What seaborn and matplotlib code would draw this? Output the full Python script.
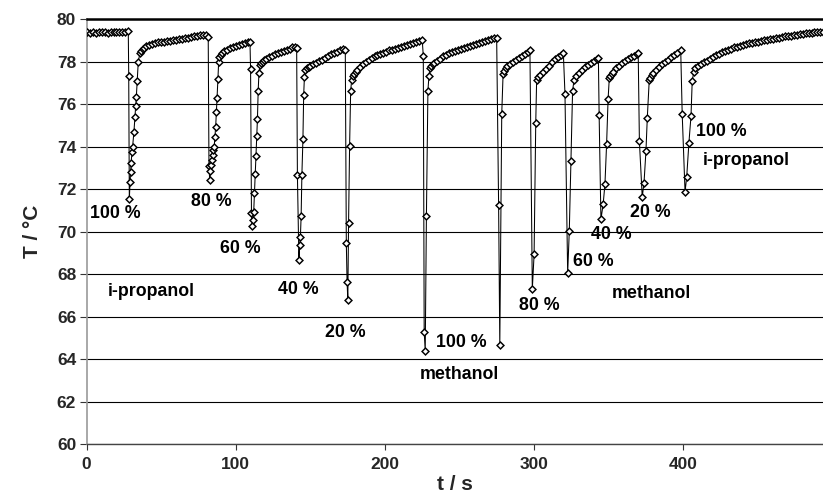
import matplotlib
matplotlib.use("Agg")
import matplotlib.pyplot as plt
import seaborn as sns
import pandas as pd

# Temperature record (t in s, T in degC), one block per injection.
baseline = [(0, 79.37), (2, 79.36), (4, 79.39), (6, 79.36), (8, 79.38), (10, 79.37),
            (12, 79.39), (14, 79.36), (16, 79.38), (18, 79.37), (20, 79.39), (22, 79.37),
            (24, 79.38), (26, 79.40), (27.9, 79.45)]

ipa_100 = [(28.2, 77.32), (28.6, 71.52), (29.1, 72.34), (29.5, 72.81), (29.8, 73.22),
           (30.4, 73.76), (30.8, 73.99), (31.7, 74.70), (32.4, 75.40), (32.9, 75.91),
           (33.3, 76.34), (33.9, 77.10), (34.6, 77.99), (35.7, 78.39), (36.5, 78.48),
           (37.5, 78.57), (38.5, 78.64), (40, 78.74), (42, 78.80), (44, 78.84),
           (46, 78.87), (48, 78.90), (50, 78.92), (52, 78.94), (54, 78.96), (56, 78.98),
           (58, 79.00), (60, 79.02), (62, 79.04), (64, 79.06), (66, 79.09), (68, 79.12),
           (70, 79.15), (72, 79.18), (74, 79.20), (76, 79.23), (78, 79.26), (80, 79.27),
           (81.5, 79.15)]

ipa_80 = [(82.0, 73.10), (82.5, 72.42), (83.0, 72.86), (83.5, 73.13), (84.0, 73.36),
          (84.5, 73.60), (85.0, 73.84), (85.5, 73.99), (86.0, 74.46), (86.5, 74.93),
          (87.0, 75.64), (87.5, 76.27), (88.0, 77.16), (88.5, 77.99), (89, 78.20),
          (90, 78.33), (91, 78.42), (92, 78.48), (94, 78.56), (96, 78.63), (98, 78.69),
          (100, 78.74), (102, 78.79), (104, 78.84), (106, 78.88), (108, 78.92),
          (109.5, 78.93)]

ipa_60 = [(109.9, 77.63), (110.5, 70.86), (111.0, 70.26), (111.5, 70.54), (112.0, 70.93),
          (112.5, 71.80), (113.0, 72.71), (113.5, 73.57), (114.0, 74.49), (114.5, 75.29),
          (115.0, 76.63), (115.5, 77.44), (116.2, 77.84), (117, 77.93), (118, 78.00),
          (119, 78.06), (120, 78.12), (122, 78.20), (124, 78.27), (126, 78.34),
          (128, 78.41), (130, 78.46), (132, 78.50), (134, 78.54), (136, 78.60),
          (138, 78.66), (140, 78.70), (140.8, 78.62)]

ipa_40 = [(141.3, 72.66), (142.3, 68.66), (142.8, 69.36), (143.3, 69.74), (143.8, 70.73),
          (144.3, 72.66), (145.0, 74.34), (145.5, 76.42), (146.0, 77.28), (146.6, 77.60),
          (148, 77.68), (149, 77.74), (150, 77.80), (152, 77.86), (154, 77.92),
          (156, 78.01), (158, 78.09), (160, 78.18), (162, 78.27), (164, 78.34),
          (166, 78.41), (168, 78.47), (170, 78.52), (172, 78.57), (173.4, 78.54)]

ipa_20 = [(174.1, 69.44), (174.6, 67.64), (175.1, 66.78), (175.6, 70.41), (176.3, 74.04),
          (177.0, 76.63), (177.7, 77.13), (178.5, 77.30), (179.5, 77.42), (180.5, 77.52),
          (181.5, 77.60), (183, 77.76), (185, 77.90), (187, 78.00), (189, 78.09),
          (191, 78.18), (193, 78.25), (195, 78.31), (197, 78.37), (199, 78.41),
          (201, 78.46), (203, 78.52), (205, 78.56), (207, 78.60), (209, 78.65),
          (211, 78.70), (213, 78.74), (215, 78.79), (217, 78.83), (219, 78.88),
          (221, 78.92), (223, 78.97), (225, 79.01)]

meoh_100a = [(225.7, 78.26), (226.3, 65.28), (227.0, 64.38), (227.8, 70.73), (228.8, 76.63),
             (229.5, 77.32), (230.2, 77.68), (231, 77.78), (232, 77.88), (233, 77.95),
             (235, 78.04), (237, 78.14), (239, 78.24), (241, 78.32), (243, 78.39),
             (245, 78.46), (247, 78.51), (249, 78.55), (251, 78.59), (253, 78.63),
             (255, 78.68), (257, 78.72), (259, 78.77), (261, 78.82), (263, 78.86),
             (265, 78.91), (267, 78.96), (269, 79.00), (271, 79.05), (273, 79.09),
             (274.9, 79.09)]

meoh_100b = [(276.2, 71.25), (277.0, 64.66), (278.3, 75.53), (279.2, 77.41), (280, 77.55),
             (281, 77.70), (282, 77.78), (284, 77.88), (286, 77.97), (288, 78.06),
             (290, 78.15), (292, 78.25), (294, 78.34), (296, 78.45), (297.2, 78.54)]

meoh_80 = [(298.8, 67.29), (300.0, 68.93), (301.1, 75.12), (301.7, 77.13), (302.5, 77.25),
           (304, 77.38), (306, 77.50), (308, 77.66), (310, 77.80), (312, 77.96),
           (314, 78.10), (316, 78.22), (318, 78.33), (319.6, 78.41)]

meoh_60 = [(320.7, 76.47), (322.5, 68.03), (323.6, 70.04), (324.7, 73.33), (325.8, 76.63),
           (326.8, 77.13), (328, 77.32), (330, 77.48), (332, 77.62), (334, 77.73),
           (336, 77.85), (338, 77.95), (340, 78.04), (342, 78.12), (343.1, 78.15)]

meoh_40 = [(343.6, 75.50), (344.8, 70.57), (346.3, 71.29), (347.5, 72.23), (348.6, 74.10),
           (349.6, 76.22), (350.4, 77.21), (351, 77.33), (352, 77.43), (353, 77.52),
           (355, 77.68), (357, 77.81), (359, 77.93), (361, 78.03), (363, 78.12),
           (365, 78.20), (367, 78.28), (369, 78.35), (369.8, 78.39)]

meoh_20 = [(370.6, 74.24), (372.5, 71.62), (373.7, 72.30), (375.0, 73.80), (375.9, 75.36),
           (377.2, 77.13), (378, 77.22), (379, 77.36), (380, 77.45), (382, 77.60),
           (384, 77.74), (386, 77.86), (388, 77.97), (390, 78.08), (392, 78.20),
           (394, 78.30), (396, 78.42), (398.3, 78.54)]

ipa_100_end = [(399.3, 75.52), (401.2, 71.87), (402.3, 72.55), (403.8, 74.18), (405.2, 75.44),
               (406.0, 77.06), (407, 77.50), (408, 77.68), (410, 77.80), (412, 77.89),
               (414, 77.97), (416, 78.04), (418, 78.13), (420, 78.22), (422, 78.30),
               (424, 78.37), (426, 78.43), (428, 78.49), (430, 78.55), (432, 78.61),
               (434, 78.66), (436, 78.70), (438, 78.74), (440, 78.78), (442, 78.82),
               (444, 78.85), (446, 78.88), (448, 78.91), (450, 78.94), (452, 78.96),
               (454, 78.99), (456, 79.01), (458, 79.04), (460, 79.07), (462, 79.10),
               (464, 79.12), (466, 79.15), (468, 79.18), (470, 79.20), (472, 79.22),
               (474, 79.24), (476, 79.26), (478, 79.28), (480, 79.30), (482, 79.32),
               (484, 79.34), (486, 79.36), (488, 79.37), (490, 79.38), (492, 79.39),
               (494, 79.40)]

y_ticks = [60, 62, 64, 66, 68, 70, 72, 74, 76, 78, 80]
x_ticks = [0, 100, 200, 300, 400]

segments = [baseline, ipa_100, ipa_80, ipa_60, ipa_40, ipa_20, meoh_100a, meoh_100b,
            meoh_80, meoh_60, meoh_40, meoh_20, ipa_100_end]
df = pd.DataFrame([p for seg in segments for p in seg], columns=["t", "T"])

sns.set_style("white")
plt.rcParams["font.family"] = ["Liberation Sans", "DejaVu Sans"]
plt.rcParams["font.weight"] = "bold"

fig = plt.figure(figsize=(8.23, 4.98), dpi=100)
ax = fig.add_axes([0.1053, 0.1084, 0.8947, 0.8534])

# the line itself, then the diamond markers drawn heavier so the dense
# recovery stretches read as a solid band
sns.lineplot(data=df, x="t", y="T", ax=ax, estimator=None, sort=False,
             color="black", linewidth=0.75, marker="D", markersize=3.5,
             markerfacecolor="white", markeredgecolor="black", markeredgewidth=1.05,
             zorder=3)

ax.set_xlim(0, 493.7)
ax.set_ylim(60, 80)
ax.set_yticks(y_ticks)
ax.set_xticks(x_ticks)
ax.yaxis.grid(True, color="black", linewidth=0.8)
ax.xaxis.grid(False)
ax.set_axisbelow(True)

ax.spines["right"].set_visible(False)
ax.spines["top"].set_color("black")
ax.spines["top"].set_linewidth(1.8)
ax.spines["left"].set_color("#9a9a9a")
ax.spines["left"].set_linewidth(1.2)
ax.spines["bottom"].set_color("#444444")
ax.spines["bottom"].set_linewidth(1.0)

ax.tick_params(axis="y", direction="out", length=5, width=0.8, color="#333333",
               labelsize=12.5, pad=2.5, left=True)
ax.tick_params(axis="x", direction="out", length=4, width=0.8, color="#333333",
               labelsize=12.5, pad=5, bottom=True)
for lab in ax.get_xticklabels() + ax.get_yticklabels():
    lab.set_fontweight("bold")

ax.set_xlabel("t / s", fontsize=15, fontweight="bold")
ax.set_ylabel("T / °C", fontsize=15, fontweight="bold")
ax.xaxis.set_label_coords(0.5, -0.072)
ax.yaxis.set_label_coords(-0.061, 0.5)

annotations = [
    ("100 %", 19.0, 70.87), ("80 %", 83.7, 71.41), ("60 %", 102.8, 69.22),
    ("40 %", 141.9, 67.28), ("20 %", 173.2, 65.27), ("i-propanol", 43.6, 67.2),
    ("100 %", 251.0, 64.77), ("methanol", 249.8, 63.25), ("80 %", 303.5, 66.54),
    ("60 %", 339.7, 68.58), ("methanol", 378.9, 67.1), ("40 %", 351.9, 69.84),
    ("20 %", 377.7, 70.89), ("100 %", 425.7, 74.70), ("i-propanol", 442.5, 73.36),
]
for text, tx, ty in annotations:
    ax.text(tx, ty, text, ha="center", va="center", fontsize=12.8,
            fontweight="bold", color="black", zorder=4)

fig.savefig("out.png", dpi=100)
